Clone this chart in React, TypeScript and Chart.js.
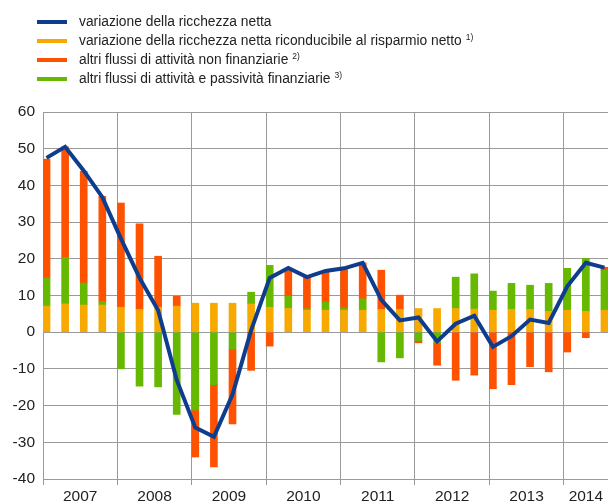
import React, { useEffect, useRef } from 'react';
import { Chart, registerables } from 'chart.js';

Chart.register(...registerables);

// ---- data (quarterly, 2007 Q1 .. 2014 Q3) ----
const years = ['2007', '2008', '2009', '2010', '2011', '2012', '2013', '2014'];

const quarters = [
  '2007 T1', '2007 T2', '2007 T3', '2007 T4',
  '2008 T1', '2008 T2', '2008 T3', '2008 T4',
  '2009 T1', '2009 T2', '2009 T3', '2009 T4',
  '2010 T1', '2010 T2', '2010 T3', '2010 T4',
  '2011 T1', '2011 T2', '2011 T3', '2011 T4',
  '2012 T1', '2012 T2', '2012 T3', '2012 T4',
  '2013 T1', '2013 T2', '2013 T3', '2013 T4',
  '2014 T1', '2014 T2', '2014 T3',
];

const netSaving = [
  7.1, 7.7, 7.4, 7.4,
  6.8, 6.2, 6.8, 7.1,
  7.9, 7.9, 7.9, 7.7,
  6.8, 6.5, 6.0, 6.0,
  6.0, 6.0, 6.2, 6.2,
  6.45, 6.45, 6.45, 6.3,
  6.0, 6.2, 6.2, 5.7,
  6.0, 5.7, 6.0,
];

const financialFlows = [
  7.7, 12.7, 6.0, 1.0,
  -10.0, -14.7, -14.9, -22.4,
  -21.2, -14.3, -4.6, 3.2,
  11.4, 3.3, 0.4, 2.2,
  0.6, 3.1, -8.1, -7.0,
  -2.3, -3.0, 8.55, 9.6,
  5.2, 7.1, 6.6, 7.6,
  11.4, 14.4, 10.9,
];

const nonFinancialFlows = [
  32.4, 30.1, 30.4, 28.6,
  28.4, 23.3, 13.9, 2.7,
  -12.8, -22.4, -20.4, -10.4,
  -3.8, 7.1, 8.5, 8.2,
  10.5, 9.8, 10.7, 3.9,
  -0.6, -6.0, -13.1, -11.7,
  -15.4, -14.3, -9.4, -10.8,
  -5.4, -1.5, 0.8,
];

const netWealthChange = [
  47.5, 50.5, 44.0, 36.8,
  25.5, 14.8, 6.0, -13.0,
  -26.0, -28.5, -17.0, 0.5,
  14.8, 17.5, 15.0, 16.7,
  17.4, 18.9, 8.8, 3.2,
  4.0, -2.5, 2.3, 4.5,
  -4.0, -1.1, 3.45, 2.5,
  12.5, 18.9, 17.6,
];

const yTicks = { min: -40, max: 60, step: 10 };

// ---- styles ----
const COLORS = {
  line: '#0e3d8e',
  saving: '#f7a900',
  nonFin: '#ff5200',
  fin: '#66b800',
  grid: '#9a9a9a',
  text: '#222222',
};
const FONT = '"Liberation Sans", Arial, sans-serif';

const legendItems = [
  { label: 'variazione della ricchezza netta', note: '', color: COLORS.line },
  { label: 'variazione della ricchezza netta riconducibile al risparmio netto', note: '1)', color: COLORS.saving },
  { label: 'altri flussi di attività non finanziarie', note: '2)', color: COLORS.nonFin },
  { label: 'altri flussi di attività e passività finanziarie', note: '3)', color: COLORS.fin },
];

const X_MIN = -0.19;
const X_MAX = 30.19;

const pts = (arr: number[]) => arr.map((v, i) => ({ x: i, y: v }));

export default function App() {
  const ref = useRef<HTMLCanvasElement | null>(null);

  useEffect(() => {
    if (!ref.current) return;
    const barCommon = {
      type: 'bar' as const,
      stack: 'bars',
      barThickness: 7,
      borderWidth: 0,
      order: 2,
    };
    const chart = new Chart(ref.current, {
      data: {
        labels: quarters,
        datasets: [
          {
            type: 'line',
            label: legendItems[0].label,
            data: pts(netWealthChange),
            borderColor: COLORS.line,
            backgroundColor: COLORS.line,
            borderWidth: 4,
            pointRadius: 0,
            tension: 0,
            stack: 'line',
            order: 0,
          } as any,
          { ...barCommon, label: legendItems[1].label, data: pts(netSaving), backgroundColor: COLORS.saving } as any,
          { ...barCommon, label: legendItems[3].label, data: pts(financialFlows), backgroundColor: COLORS.fin } as any,
          { ...barCommon, label: legendItems[2].label, data: pts(nonFinancialFlows), backgroundColor: COLORS.nonFin } as any,
        ],
      },
      options: {
        animation: false,
        responsive: false,
        maintainAspectRatio: false,
        layout: { padding: { top: 112, left: 0, right: 0, bottom: 0 } },
        plugins: { legend: { display: false }, tooltip: { enabled: false } },
        scales: {
          x: {
            type: 'linear',
            min: X_MIN,
            max: X_MAX,
            offset: false,
            afterBuildTicks: (scale: any) => {
              const t: any[] = [];
              years.forEach((_, k) => {
                const start = X_MIN + 4 * k;
                const end = Math.min(start + 4, X_MAX);
                t.push({ value: start });
                t.push({ value: (start + end) / 2 });
              });
              scale.ticks = t;
            },
            afterFit: (scale: any) => {
              scale.height = 24;
            },
            grid: {
              offset: false,
              color: (ctx: any) => (ctx.index % 2 === 0 ? COLORS.grid : 'rgba(0,0,0,0)'),
              tickColor: (ctx: any) => (ctx.index % 2 === 0 ? COLORS.grid : 'rgba(0,0,0,0)'),
              tickLength: 6,
              lineWidth: 1,
            },
            border: { display: true, color: COLORS.grid },
            ticks: {
              autoSkip: false,
              maxRotation: 0,
              minRotation: 0,
              padding: 2,
              color: COLORS.text,
              font: { family: FONT, size: 15.5 },
              callback: (_v: any, index: number) => (index % 2 === 1 ? years[(index - 1) / 2] : ''),
            },
          },
          y: {
            type: 'linear',
            stacked: true,
            min: yTicks.min,
            max: yTicks.max,
            afterFit: (scale: any) => {
              scale.width = 43;
            },
            grid: { color: COLORS.grid, drawTicks: false, lineWidth: 1 },
            border: { display: true, color: COLORS.grid },
            ticks: {
              stepSize: yTicks.step,
              padding: 8,
              color: COLORS.text,
              font: { family: FONT, size: 15.5 },
            },
          },
        },
      } as any,
    });
    return () => chart.destroy();
  }, []);

  return (
    <div style={{ position: 'fixed', left: 0, top: 0, width: 608, height: 503, background: '#fff', overflow: 'hidden' }}>
      <canvas ref={ref} width={608} height={503} style={{ position: 'absolute', left: 0, top: 0, width: 608, height: 503 }} />
      {legendItems.map((it, k) => (
        <div
          key={k}
          style={{
            position: 'absolute',
            left: 0,
            top: 12 + 19 * k,
            height: 19,
            width: 608,
            fontFamily: FONT,
            fontSize: 13.8,
            lineHeight: '19px',
            color: COLORS.text,
            whiteSpace: 'nowrap',
          }}
        >
          <span style={{ position: 'absolute', left: 37, top: 8, width: 30, height: 4, background: it.color }} />
          <span style={{ position: 'absolute', left: 79, top: 0 }}>
            {it.label}
            {it.note ? (
              <sup style={{ fontSize: 8.5, marginLeft: 4, verticalAlign: 'top', position: 'relative', top: -3 }}>{it.note}</sup>
            ) : null}
          </span>
        </div>
      ))}
    </div>
  );
}
